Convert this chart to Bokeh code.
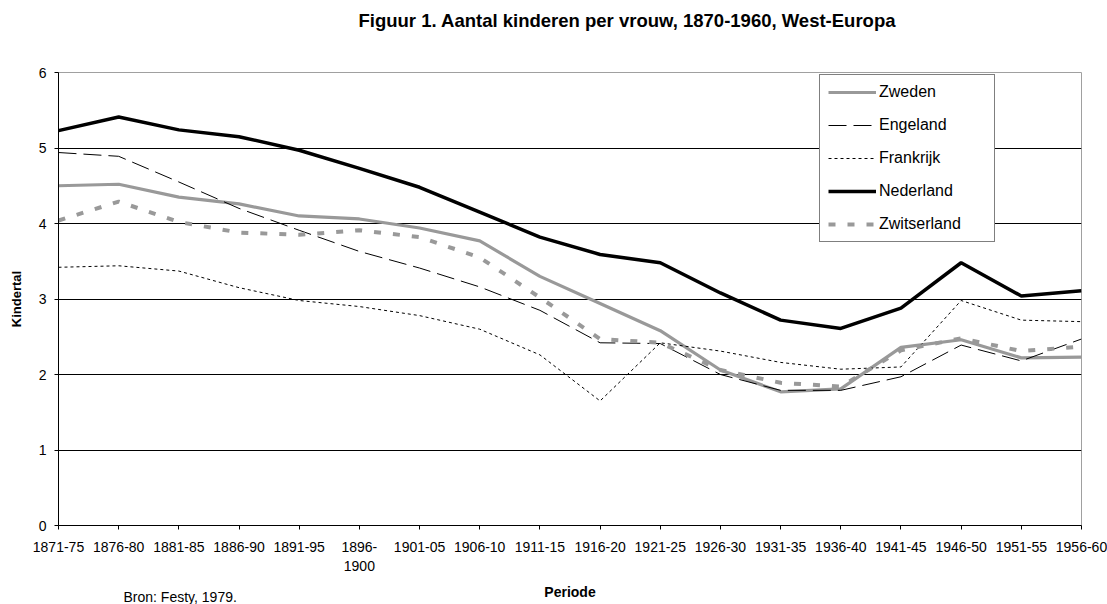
from bokeh.plotting import figure
from bokeh.models import Range1d, FixedTicker, Legend, LegendItem, ColumnDataSource, Title
from bokeh.embed import file_html
from bokeh.resources import INLINE

periods = ["1871-75", "1876-80", "1881-85", "1886-90", "1891-95", "1896-\n1900",
           "1901-05", "1906-10", "1911-15", "1916-20", "1921-25", "1926-30",
           "1931-35", "1936-40", "1941-45", "1946-50", "1951-55", "1956-60"]

zweden = [4.50, 4.52, 4.35, 4.26, 4.10, 4.06, 3.94, 3.77, 3.30, 2.94, 2.58, 2.06,
          1.77, 1.81, 2.36, 2.46, 2.22, 2.23]
engeland = [4.94, 4.89, 4.55, 4.20, 3.91, 3.63, 3.41, 3.16, 2.85, 2.42, 2.41, 2.00,
            1.79, 1.79, 1.97, 2.39, 2.18, 2.47]
frankrijk = [3.42, 3.44, 3.37, 3.15, 2.98, 2.90, 2.78, 2.60, 2.26, 1.65, 2.42, 2.31,
             2.16, 2.07, 2.10, 2.98, 2.72, 2.70]
nederland = [5.23, 5.41, 5.24, 5.15, 4.97, 4.73, 4.48, 4.15, 3.82, 3.59, 3.48, 3.08,
             2.72, 2.61, 2.88, 3.48, 3.04, 3.11]
zwitserland = [4.04, 4.29, 4.02, 3.88, 3.85, 3.91, 3.82, 3.55, 3.02, 2.47, 2.42, 2.06,
               1.89, 1.84, 2.32, 2.48, 2.31, 2.37]

y_ticks = [0, 1, 2, 3, 4, 5, 6]

FONT = "Liberation Sans"
GRAY = "#999999"

xs = list(range(len(periods)))
src = ColumnDataSource(dict(x=xs, zweden=zweden, engeland=engeland, frankrijk=frankrijk,
                            nederland=nederland, zwitserland=zwitserland))

W, H = 1107, 604
FL, FR, FT, FB = 58, 1081, 72, 525
p = figure(width=W, height=H, x_range=Range1d(0, len(periods) - 1), y_range=Range1d(0, 6),
           output_backend="svg", toolbar_location=None,
           min_border_left=FL, min_border_right=W - FR, min_border_top=FT, min_border_bottom=H - FB)

p.outline_line_color = "#a0a0a0"
p.outline_line_width = 1
p.background_fill_color = "white"
p.border_fill_color = "white"

p.xgrid.visible = False
p.ygrid.ticker = FixedTicker(ticks=[1, 2, 3, 4, 5])
p.ygrid.grid_line_color = "black"
p.ygrid.grid_line_width = 1
p.ygrid.grid_line_alpha = 1.0

p.xaxis.ticker = FixedTicker(ticks=xs)
p.xaxis.major_label_overrides = {i: lab for i, lab in enumerate(periods)}
p.yaxis.ticker = FixedTicker(ticks=y_ticks)
for ax in (p.xaxis, p.yaxis):
    ax.axis_line_color = "black"
    ax.axis_line_width = 1
    ax.major_tick_line_color = "black"
    ax.major_tick_out = 4
    ax.major_tick_in = 0
    ax.minor_tick_line_color = None
    ax.major_label_text_font = FONT
    ax.major_label_text_font_size = "14px"
    ax.major_label_text_color = "black"
    ax.axis_label_text_font = FONT
    ax.axis_label_text_font_style = "bold"
    ax.axis_label_text_color = "black"
p.xaxis.major_label_standoff = 9
p.yaxis.major_label_standoff = 8
p.xaxis.axis_label = "Periode"
p.xaxis.axis_label_text_font_size = "14px"
p.xaxis.axis_label_standoff = 7
p.yaxis.axis_label = "Kindertal"
p.yaxis.axis_label_text_font_size = "13px"
p.yaxis.axis_label_standoff = 12

r1 = p.line("x", "zweden", source=src, line_color=GRAY, line_width=3.2)
r2 = p.line("x", "engeland", source=src, line_color="black", line_width=1, line_dash="18 7")
r3 = p.line("x", "frankrijk", source=src, line_color="black", line_width=1, line_dash="3 3")
r4 = p.line("x", "nederland", source=src, line_color="black", line_width=3.5)
r5 = p.line("x", "zwitserland", source=src, line_color=GRAY, line_width=4, line_dash="7 12")

legend = Legend(items=[LegendItem(label="Zweden", renderers=[r1]),
                       LegendItem(label="Engeland", renderers=[r2]),
                       LegendItem(label="Frankrijk", renderers=[r3]),
                       LegendItem(label="Nederland", renderers=[r4]),
                       LegendItem(label="Zwitserland", renderers=[r5])],
                location=(761, 283))
legend.border_line_color = "black"
legend.border_line_width = 1
legend.background_fill_color = "white"
legend.background_fill_alpha = 1.0
legend.padding = 8
legend.spacing = 15
legend.margin = 0
legend.glyph_width = 48
legend.glyph_height = 18
legend.label_standoff = 3
legend.label_width = 107
legend.label_height = 18
legend.label_text_font = FONT
legend.label_text_font_size = "16px"
legend.label_text_color = "black"
p.add_layout(legend, "center")

# spacer next to the frame, then the real title above it
spacer = Title(text=" ", text_font_size="1px", standoff=37, text_color="white")
p.add_layout(spacer, "above")
title = Title(text="Figuur 1. Aantal kinderen per vrouw, 1870-1960, West-Europa",
              align="left", offset=300, standoff=0, vertical_align="top",
              text_font=FONT, text_font_size="18.5px", text_font_style="bold", text_color="black")
p.add_layout(title, "above")

bron = Title(text="Bron: Festy,  1979.", align="left", offset=65, standoff=-28, vertical_align="top",
             text_font=FONT, text_font_size="14px", text_font_style="normal", text_color="black")
p.add_layout(bron, "below")

open("out.html", "w").write(file_html(p, INLINE))
